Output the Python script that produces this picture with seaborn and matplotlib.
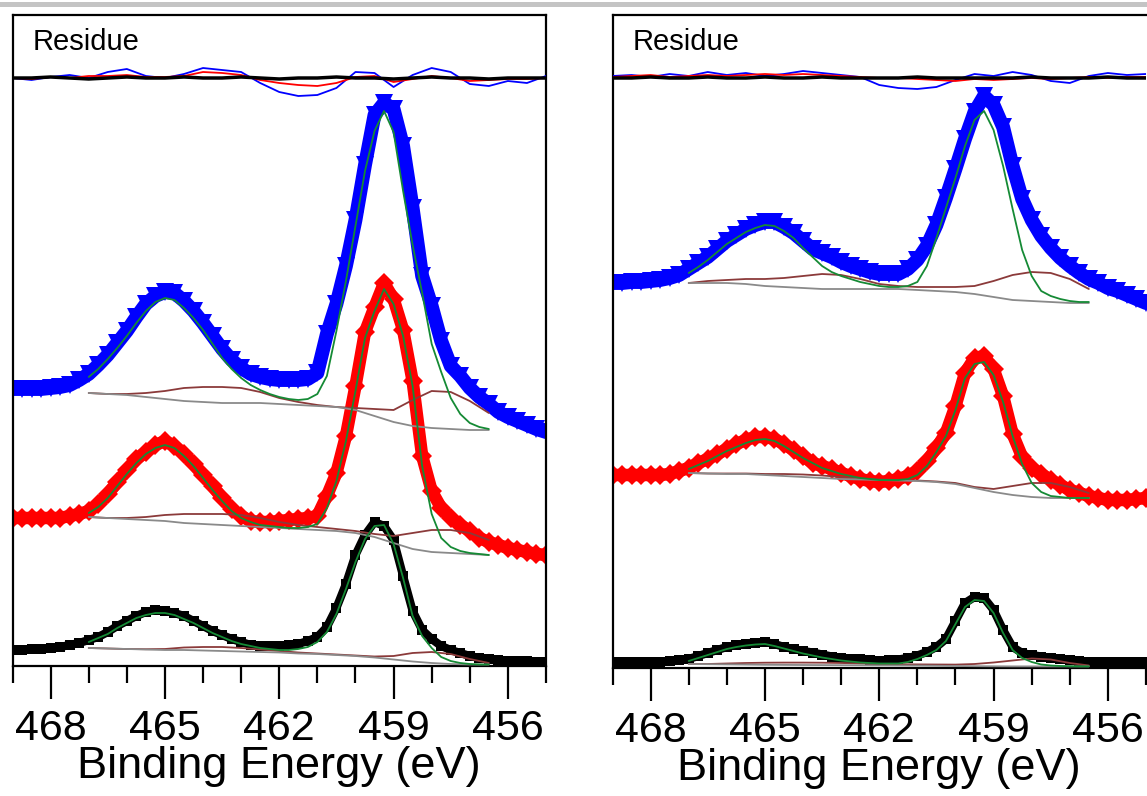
import numpy as np
import matplotlib
matplotlib.use("Agg")
import matplotlib.pyplot as plt
import seaborn as sns
from matplotlib.patches import Rectangle
from matplotlib.ticker import MultipleLocator

sns.set_theme(style="white")
plt.rcParams['font.family'] = ['Liberation Sans', 'DejaVu Sans']

# ---------------- energy axes (eV) ----------------
E_DATA = [round(469.0 - 0.25 * i, 2) for i in range(57)]   # 469 -> 455
E_COMP = [round(467.0 - 0.5 * i, 2) for i in range(22)]    # 467 -> 456.5 (fit range)
E_TI4 = [round(467.0 - 0.25 * i, 2) for i in range(43)]    # 467 -> 456.5 (fit range)
E_RES = [round(469.0 - 0.5 * i, 2) for i in range(29)]     # 469 -> 455

# ---------------- left panel: measured spectra (stacked, a.u.) ----------------
L_BLUE = [277, 277, 277, 277, 278, 279, 281, 286, 292, 301, 311, 323, 335, 349, 362, 370,
          374, 373, 365, 355, 343, 330, 317, 306, 298, 292, 289, 287, 286, 286, 286, 287,
          293, 332, 362, 400, 446, 501, 551, 563, 557, 520, 458, 390, 360, 325, 300, 290,
          278, 269, 262, 254, 249, 245, 241, 237, 234]
L_RED = [148, 148, 148, 148, 148, 148, 150, 152, 155, 162, 172, 184, 196, 207, 214, 221,
         225, 220, 212, 202, 191, 180, 168, 157, 150, 145, 144, 144, 145, 146, 147, 148,
         150, 170, 193, 230, 280, 334, 359, 383, 367, 336, 285, 210, 175, 158, 148, 141,
         135, 128, 124, 121, 118, 116, 114, 112, 111]
L_BLACK = [16, 16, 17, 17, 18, 19, 21, 23, 26, 29, 34, 40, 45, 50, 54, 56,
           55, 53, 50, 45, 40, 35, 31, 27, 24, 21, 20, 20, 20, 21, 22, 25,
           29, 39, 58, 82, 111, 131, 144, 140, 126, 90, 55, 36, 27, 20, 16, 13,
           10, 8, 7, 6, 5, 5, 5, 4, 4]

# left panel: fit components (background, Ti3+ doublet, Ti4+ doublet)
L_BLUE_BG = [273, 272, 271, 269, 267, 265, 264, 263, 263, 263, 262, 261, 260, 259, 256, 250,
             244, 240, 238, 237, 236, 236]
L_BLUE_TI3 = [273, 272, 272, 273, 275, 278, 279, 279, 278, 274, 268, 264, 261, 259, 258, 257,
              256, 266, 275, 274, 265, 253]
L_BLUE_TI4 = [289, 297, 307, 318, 330, 343, 355, 364, 368, 366, 358, 348, 336, 322, 308, 297,
              288, 281, 276, 272, 269, 267, 266, 267, 272, 290, 335, 385, 440, 495, 535, 555,
              534, 475, 421, 373, 322, 294, 268, 252, 243, 239, 237]
L_RED_BG = [149, 148, 147, 146, 145, 143, 142, 141, 140, 139, 138, 137, 136, 135, 133, 129,
            123, 117, 114, 113, 112, 111]
L_RED_TI3 = [149, 148, 148, 149, 151, 152, 152, 152, 151, 148, 144, 141, 139, 137, 135, 132,
             130, 133, 136, 136, 133, 126]
L_RED_TI4 = [153, 159, 168, 180, 192, 203, 212, 218, 221, 218, 210, 200, 188, 176, 165, 155,
             148, 144, 141, 140, 139, 138, 138, 139, 142, 158, 185, 225, 275, 328, 355, 377,
             362, 330, 280, 200, 152, 128, 119, 115, 113, 112, 111]
L_BLACK_BG = [18, 17.5, 17, 16.5, 16, 16, 15.5, 15, 14.5, 14, 13.5, 12.5, 12, 11, 10, 8.5,
              6.5, 4.5, 3, 2, 1.5, 1.5]
L_BLACK_TI3 = [18, 17.5, 17, 16.8, 17, 18.5, 19, 19, 18, 16.5, 15, 13.5, 12.5, 11.5, 10.5, 9.5,
               10, 13, 14, 12, 7, 3]
L_BLACK_TI4 = [24, 28, 32, 38, 43, 48, 51, 53, 53, 51, 47, 43, 38, 33, 29, 25,
               22, 20, 18, 17, 16, 16, 17, 19, 24, 34, 52, 77, 104, 127, 140, 141,
               122, 88, 50, 30, 18, 9, 5, 3, 2, 1.5, 1.5]

# left panel residues
L_BLUE_RES = [0, -2, 1, 3, 0, 6, 9, 2, 0, 4, 10, 8, 6, -5, -14, -18, -17, -10, 6, 5, -9, 3, 10,
              6, -6, -8, -3, -5, 2]
L_RED_RES = [0, -1, 1, 0, 2, 2, 3, 1, 1, 2, 6, 5, 3, -2, -5, -7, -8, -5, 1, 2, -4, -1, 2, 0,
             -3, -2, -1, -1, 0]
L_BLACK_RES = [0, 0, 1, 0, -1, 0, 1, 0, 0, 1, 0, 0, 1, 0, -1, 0, 0, 1, 0, 0, -1, 0, 1, 0, 0,
               -1, 0, 0, 0]

# ---------------- right panel: measured spectra ----------------
R_BLUE = [385, 385, 386, 386, 387, 388, 390, 393, 399, 405, 411, 419, 427, 433, 439, 443,
          446, 446, 441, 435, 427, 419, 415, 411, 406, 402, 399, 396, 394, 394, 394, 399,
          408, 422, 443, 470, 499, 529, 556, 572, 563, 541, 502, 469, 448, 432, 420, 410,
          402, 395, 389, 385, 380, 377, 373, 369, 365]
R_RED = [193, 193, 193, 193, 193, 193, 194, 197, 200, 205, 209, 214, 219, 224, 228, 231,
         231, 229, 224, 218, 212, 205, 202, 199, 195, 192, 189, 187, 186, 187, 189, 192,
         197, 207, 220, 235, 262, 295, 310, 312, 299, 272, 234, 211, 200, 194, 188, 183,
         178, 175, 172, 170, 168, 168, 168, 169, 170]
R_BLACK = [6, 6, 6, 6, 6, 6.5, 7, 8, 9, 12, 15, 18, 21, 23, 24.5, 25.5,
           26, 24, 21, 19, 17, 15.5, 13.5, 11.5, 10, 9.5, 9, 8, 7.5, 8, 8.5, 10,
           12.5, 16, 21, 29, 47, 65, 71, 70, 58, 38, 21, 15, 13, 11.5, 10, 9,
           8, 7, 6.5, 6.2, 6, 6, 6, 6, 6]

R_BLUE_BG = [385, 385, 385, 384, 382, 381, 380, 379, 379, 379, 379, 379, 378, 377, 376, 374,
             371, 368, 367, 366, 365, 365]
R_BLUE_TI3 = [385, 387, 388, 389, 389, 390, 392, 394, 393, 389, 384, 382, 381, 381, 381, 382,
              387, 393, 396, 395, 389, 379]
R_BLUE_TI4 = [395, 401, 408, 416, 424, 430, 436, 440, 443, 442, 437, 430, 420, 411, 402, 396,
              392, 389, 386, 384, 382, 381, 381, 382, 386, 402, 430, 460, 490, 522, 548, 557,
              538, 502, 459, 418, 392, 377, 372, 369, 367, 366, 366]
R_RED_BG = [195, 194.5, 194, 194, 193, 192, 191, 190, 189, 188.5, 188, 187.5, 187, 186, 184, 180,
            176, 173, 171, 170, 170, 170]
R_RED_TI3 = [195, 194.5, 194.5, 194.5, 194, 194, 193.5, 192.5, 191, 189.5, 188.5, 188, 187.5,
             186.5, 185, 181, 179, 182, 185, 185, 181, 175]
R_RED_TI4 = [199, 203, 207, 212, 217, 221, 225, 228, 229, 227, 222, 216, 210, 205, 200, 197,
             194, 192, 190, 189, 188, 188, 188, 189, 193, 202, 216, 232, 258, 290, 304, 306,
             293, 266, 232, 204, 185, 176, 172, 171, 170, 170, 170]
R_BLACK_BG = [4, 3.8, 3.6, 3.4, 3.2, 3.1, 3, 2.9, 2.8, 2.7, 2.6, 2.5, 2.4, 2.2, 2, 1.8,
              1.7, 1.6, 1.6, 1.6, 1.6, 1.6]
R_BLACK_TI3 = [4, 4, 4.5, 5, 5.3, 5.4, 5.4, 5.3, 5, 4.5, 4, 3.8, 3.6, 3.5, 3.4, 4,
               5.5, 7.5, 9.5, 8.5, 5, 2.5]
R_BLACK_TI4 = [7, 10, 13, 16, 19, 21, 22.5, 23.5, 24, 22, 19.5, 17, 14.5, 12.5, 10.5, 9,
               7.5, 6.5, 5.5, 5, 4.5, 4.5, 4.5, 6, 9, 13, 18, 27, 44, 61, 68, 67,
               55, 35, 18, 10, 6, 3.5, 2.5, 2, 1.8, 1.6, 1.6]

R_BLUE_RES = [2, 3, 1, 4, 2, 6, 3, 5, 2, 4, 7, 5, 3, 1, -7, -10, -11, -9, -2, 4, 2, 6, 3, -3,
              -5, 2, 5, 3, 4]
R_RED_RES = [1, 2, 3, 1, 2, 3, 2, 3, 4, 3, 4, 3, 2, 1, 0, 0, -1, -2, -3, -1, -2, -1, 0, -1, 0,
             1, 0, 1, 1]
R_BLACK_RES = [0, 0, 1, 0, 0, 1, 0, 0, 1, 0, 0, 1, 0, 0, 0, 0, 1, 0, 0, 0, 0, 0, 1, 0, 0, 0,
               1, 0, 0]

# ---------------- styling ----------------
C_BLUE, C_RED, C_BLACK = "#0000ff", "#ff0000", "#000000"
C_BG, C_TI3, C_TI4 = "#8a8a8a", "#8b3a3a", "#158a35"

W, H = 1147, 796
fig = plt.figure(figsize=(W / 100, H / 100), dpi=100)
fig.add_artist(Rectangle((0, 1 - 7 / H), 1, 5 / H, transform=fig.transFigure,
                         facecolor="#c4c4c4", edgecolor="none"))

axL = fig.add_axes([12.5 / W, (H - 666) / H, 533.5 / W, 651.5 / H])
axR = fig.add_axes([612.5 / W, (H - 668) / H, 533.5 / W, 653.5 / H])


def draw_panel(ax, spectra, comps, residues, res_zero, ytop, right_spine):
    for vals, col, mk, ms, lw in spectra:
        sns.lineplot(x=E_DATA, y=vals, ax=ax, color=col, linewidth=lw, marker=mk,
                     markersize=ms, markeredgewidth=0, sort=False, legend=False, zorder=2)
    for bg, ti3, ti4 in comps:
        sns.lineplot(x=E_COMP, y=ti3, ax=ax, color=C_TI3, linewidth=1.3, sort=False,
                     legend=False, zorder=3)
        sns.lineplot(x=E_COMP, y=bg, ax=ax, color=C_BG, linewidth=1.3, sort=False,
                     legend=False, zorder=3)
        sns.lineplot(x=E_TI4, y=ti4, ax=ax, color=C_TI4, linewidth=1.3, sort=False,
                     legend=False, zorder=3)
    for res, col, lw in residues:
        sns.lineplot(x=E_RES, y=[res_zero + v for v in res], ax=ax, color=col,
                     linewidth=lw, sort=False, legend=False, zorder=4)

    ax.set_xlim(469, 455)
    ax.set_ylim(0, ytop)
    ax.set_yticks([])
    ax.set_ylabel("")
    ax.xaxis.set_major_locator(MultipleLocator(3))
    ax.xaxis.set_minor_locator(MultipleLocator(1))
    ax.tick_params(axis="x", which="major", direction="out", length=24, width=1.6,
                   color="black", labelsize=31, labelcolor="black", pad=7, bottom=True)
    ax.tick_params(axis="x", which="minor", direction="out", length=12, width=1.6,
                   color="black", bottom=True)
    for side, sp in ax.spines.items():
        sp.set_color("black")
        sp.set_linewidth(1.6)
    ax.spines["right"].set_visible(right_spine)
    ax.set_xlabel("Binding Energy (eV)", fontsize=32.5, color="black", labelpad=-2)
    ax.text(20 / 533.5, (ytop - 27) / ytop, "Residue", transform=ax.transAxes,
            fontsize=21, va="center", ha="left", color="black")


draw_panel(
    axL,
    [(L_BLUE, C_BLUE, "v", 13, 10), (L_RED, C_RED, "D", 10, 9), (L_BLACK, C_BLACK, "s", 7, 6)],
    [(L_BLUE_BG, L_BLUE_TI3, L_BLUE_TI4), (L_RED_BG, L_RED_TI3, L_RED_TI4),
     (L_BLACK_BG, L_BLACK_TI3, L_BLACK_TI4)],
    [(L_BLUE_RES, C_BLUE, 1.3), (L_RED_RES, C_RED, 1.3), (L_BLACK_RES, C_BLACK, 2.5)],
    588, 651.5, True,
)
draw_panel(
    axR,
    [(R_BLUE, C_BLUE, "v", 13, 10), (R_RED, C_RED, "D", 10, 9), (R_BLACK, C_BLACK, "s", 7, 6)],
    [(R_BLUE_BG, R_BLUE_TI3, R_BLUE_TI4), (R_RED_BG, R_RED_TI3, R_RED_TI4),
     (R_BLACK_BG, R_BLACK_TI3, R_BLACK_TI4)],
    [(R_BLUE_RES, C_BLUE, 1.3), (R_RED_RES, C_RED, 1.3), (R_BLACK_RES, C_BLACK, 2.5)],
    590, 653.5, False,
)

fig.savefig("out.png", dpi=100)
